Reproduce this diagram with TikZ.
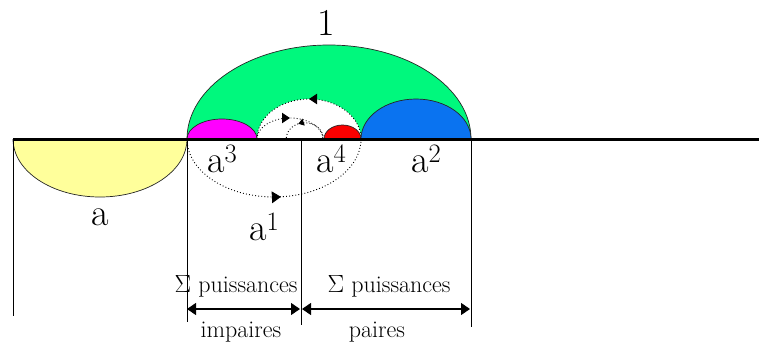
\documentclass[tikz,border=0pt]{standalone}
\usetikzlibrary{arrows.meta,decorations.markings}
\definecolor{cgreen}{RGB}{0,248,125}
\definecolor{cblue}{RGB}{10,115,240}
\definecolor{cyellow}{RGB}{255,255,155}
\definecolor{cmag}{RGB}{255,0,255}
\definecolor{cred}{RGB}{250,0,0}
\begin{document}
\begin{tikzpicture}[x=1pt,y=-1pt,
  outl/.style={draw=black!85,line width=0.7pt},
  dots/.style={line width=0.9pt,dash pattern=on 0.9pt off 2.2pt},
  bigtxt/.style={font=\fontsize{38}{42}\selectfont,inner sep=0pt},
  smalltxt/.style={font=\fontsize{24}{28}\selectfont,inner sep=0pt},
  vline/.style={line width=0.8pt},
  dbl/.style={line width=1.2pt,{Triangle[length=9pt,width=12pt]}-{Triangle[length=9pt,width=12pt]}},
  markat/.style 2 args={postaction={decorate,decoration={markings,
     mark=at position #1 with {\arrow{Triangle[length=#2,width=1.3*#2]}}}}}
]
\useasboundingbox (0,0) rectangle (759,343);
% coordinates
\coordinate (L0) at (13,139);
\coordinate (L1) at (187,139);
\coordinate (L2) at (301,139);
\coordinate (L3) at (471,139);
\coordinate (Lend) at (759,139);
\coordinate (B0) at (13,316);
\coordinate (B1) at (187,322);
\coordinate (B2) at (301,325);
\coordinate (B3) at (471,327);
\coordinate (A1) at (187,309);
\coordinate (A2) at (300,309);
\coordinate (A3) at (302,309);
\coordinate (A4) at (470,309);
% yellow
\fill[cyellow] (13,139) arc[start angle=180,end angle=360,x radius=87pt,y radius=58pt] -- cycle;
\draw[outl] (13,139) arc[start angle=180,end angle=360,x radius=87pt,y radius=58pt];
% green
\filldraw[fill=cgreen,outl] (187,139) arc[start angle=180,end angle=0,x radius=142pt,y radius=94pt] -- cycle;
% white inner region
\fill[white] (257,139) arc[start angle=180,end angle=0,x radius=52pt,y radius=40pt] -- cycle;
\draw[dots,markat={0.5}{8pt}] (361,139) arc[start angle=0,end angle=180,x radius=52pt,y radius=40pt];
% magenta, red, blue
\filldraw[fill=cmag,outl] (187,139) arc[start angle=180,end angle=0,x radius=35pt,y radius=20pt] -- cycle;
\filldraw[fill=cred,outl] (324,139) arc[start angle=180,end angle=0,x radius=18.5pt,y radius=14pt] -- cycle;
\filldraw[fill=cblue,outl] (361,139) arc[start angle=180,end angle=0,x radius=55pt,y radius=40pt] -- cycle;
% inner spiral arcs
\draw[dots,markat={0.5}{8pt}] (257,139) arc[start angle=180,end angle=0,x radius=33pt,y radius=21pt];
\draw[dots,markat={0.6}{5.5pt}] (323,136) arc[start angle=10,end angle=180,x radius=18.5pt,y radius=16pt];
% lower a^1 arc
\draw[dots,markat={0.53}{9pt}] (187,139) arc[start angle=180,end angle=360,x radius=87pt,y radius=58pt];
% vertical lines
\draw[vline] (L0) -- (B0);
\draw[vline] (L1) -- (B1);
\draw[vline] (L2) -- (B2);
\draw[vline] (L3) -- (B3);
% main line
\draw[line width=3pt] (L0) -- (Lend);
% double arrows
\draw[dbl] (A1) -- (A2);
\draw[dbl] (A3) -- (A4);
% labels
\node[bigtxt,anchor=base] (one) at (326,35) {1};
\node[bigtxt,anchor=base west] (la) at (91,225) {a};
\node[bigtxt,anchor=base west] (la3) at (207,172) {a\textsuperscript{3}};
\node[bigtxt,anchor=base west] (la4) at (316,172) {a\textsuperscript{4}};
\node[bigtxt,anchor=base west] (la2) at (411,172) {a\textsuperscript{2}};
\node[bigtxt,anchor=base west] (la1) at (249,240) {a\textsuperscript{1}};
\node[smalltxt,anchor=base] (sp1) at (236,292) {$\Sigma$ puissances};
\node[smalltxt,anchor=base] (sp2) at (389,292) {$\Sigma$ puissances};
\node[smalltxt,anchor=base] (imp) at (241,337) {impaires};
\node[smalltxt,anchor=base] (pai) at (377,337) {paires};
\end{tikzpicture}
\end{document}
